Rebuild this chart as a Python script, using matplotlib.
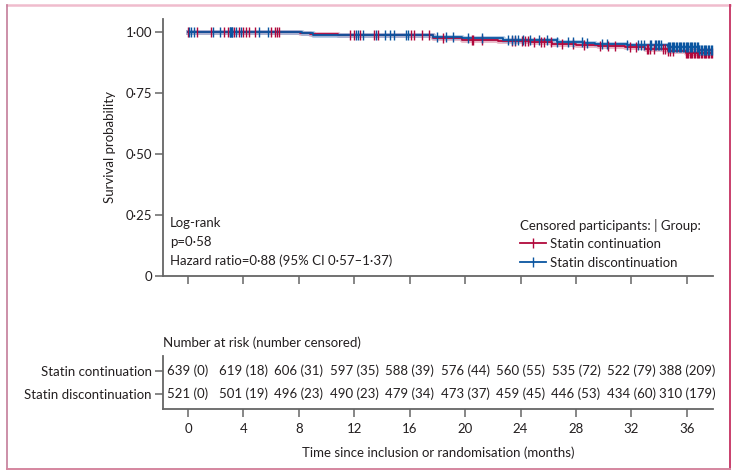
import numpy as np
import matplotlib
matplotlib.use("Agg")
import matplotlib.pyplot as plt
from matplotlib.lines import Line2D

plt.rcParams['font.family'] = ['Lato', 'DejaVu Sans']
plt.rcParams['font.size'] = 9.5

# Kaplan-Meier steps (time in months, survival)
cont_t = [0, 8.1, 8.8, 10.8, 11.9, 17.7, 19.8, 22.4, 24.7, 26.3, 28.0, 29.6, 31.5, 33.0, 34.6, 35.9, 37.8]
cont_s = [1.0, 0.995, 0.992, 0.989, 0.986, 0.977, 0.967, 0.962, 0.958, 0.952, 0.948, 0.942, 0.937, 0.931, 0.923, 0.915, 0.915]
disc_t = [0, 8.2, 9.0, 12.0, 17.7, 19.8, 22.7, 26.6, 28.5, 29.4, 31.7, 34.6, 36.9, 37.8]
disc_s = [1.0, 0.995, 0.989, 0.986, 0.981, 0.974, 0.967, 0.960, 0.956, 0.951, 0.945, 0.938, 0.926, 0.926]

# censoring times
cont_cens = [0.02, 0.67, 1.64, 2.6, 2.86, 3.3, 3.7, 3.95, 4.18, 4.38, 4.83, 6.0, 6.3, 6.45, 6.6,
             11.7, 12.0, 12.4, 13.4, 13.7, 16.1, 16.3, 16.9, 17.4, 18.4, 20.5, 20.6, 21.2,
             23.4, 23.6, 24.1, 24.3, 24.5, 25.0, 25.5, 25.7, 26.2, 27.0, 27.8, 28.6, 29.7,
             30.3, 30.8, 31.9, 32.3, 33.1, 33.2, 33.3, 33.6, 34.3, 34.4, 34.6, 34.8, 35.0,
             35.9, 36.0, 36.1, 36.2, 36.3, 36.4, 36.5, 36.6, 36.7, 36.8, 36.9, 37.0, 37.1,
             37.2, 37.3, 37.4, 37.5, 37.6, 37.7, 37.8]
disc_cens = [0.05, 0.25, 0.45, 1.8, 2.3, 3.0, 3.05, 3.1, 3.15, 3.2, 3.5, 3.8, 5.1, 5.8,
             12.1, 12.3, 12.6, 13.6, 14.2, 14.6, 14.9, 15.7, 15.9, 18.0, 18.6, 19.1, 20.2,
             21.2, 23.1, 23.4, 23.6, 23.8, 24.2, 24.7, 25.3, 25.9, 26.6, 27.4, 27.8, 28.4,
             28.8, 29.9, 30.2, 31.7, 32.5, 32.7, 32.9, 33.3, 33.4, 33.7, 33.8, 33.9, 34.0,
             34.1, 34.6, 34.7, 34.8, 34.9, 35.0, 35.1, 35.2, 35.3, 35.4, 35.5, 35.6, 35.7,
             35.8, 35.9, 36.0, 36.1, 36.2, 36.3, 36.4, 36.5, 36.6, 36.7, 36.8, 36.9, 37.0,
             37.1, 37.2, 37.3, 37.4, 37.5, 37.6, 37.7, 37.8]

risk_times = [0, 4, 8, 12, 16, 20, 24, 28, 32, 36]
cont_risk = ["639 (0)", "619 (18)", "606 (31)", "597 (35)", "588 (39)", "576 (44)",
             "560 (55)", "535 (72)", "522 (79)", "388 (209)"]
disc_risk = ["521 (0)", "501 (19)", "496 (23)", "490 (23)", "479 (34)", "473 (37)",
             "459 (45)", "446 (53)", "434 (60)", "310 (179)"]

y_ticks = [0, 0.25, 0.5, 0.75, 1.0]
y_labels = ["0", "0·25", "0·50", "0·75", "1·00"]

RED = "#b1083c"
BLUE = "#0a55a0"
RED_L = "#d98aa3"
BLUE_L = "#7fa9d6"
TXT = "#231f20"
SPINE = "#666666"


def surv_at(times, surv, t):
    idx = np.searchsorted(times, t, side='right') - 1
    return np.array(surv)[idx]


fig = plt.figure(figsize=(7.35, 4.73), dpi=100)
W, H = 735, 473

# pink frame
fig.add_artist(Line2D([7 / W, 730 / W], [1 - 5.5 / H, 1 - 5.5 / H], color="#f0bccd", lw=1.8))
fig.add_artist(Line2D([7.3 / W, 7.3 / W], [1 - 5 / H, 1 - 469 / H], color="#c47d99", lw=1.2))
fig.add_artist(Line2D([729.5 / W, 729.5 / W], [1 - 5 / H, 1 - 469 / H], color="#c93f6d", lw=1.4))
fig.add_artist(Line2D([7 / W, 730 / W], [1 - 469 / H, 1 - 469 / H], color="#d5869f", lw=1.4))

ax = fig.add_axes([163 / W, 1 - 276 / H, 550 / W, 257 / H])
ax2 = fig.add_axes([163 / W, 1 - 409 / H, 550 / W, 53 / H])

for a in (ax, ax2):
    a.set_xlim(-1.8, 37.88)
    for s in ("top", "right"):
        a.spines[s].set_visible(False)
    for s in ("left", "bottom"):
        a.spines[s].set_color(SPINE)
        a.spines[s].set_linewidth(1.3)
    a.tick_params(direction='out', length=6, width=1.1, color=SPINE, labelcolor=TXT, pad=2)
    a.set_xticks(risk_times)

# survival curves
ax.step(cont_t, cont_s, where='post', color=RED_L, lw=3.5, alpha=0.6, zorder=2)
ax.step(disc_t, disc_s, where='post', color=BLUE_L, lw=3.5, alpha=0.6, zorder=2)
ax.step(cont_t, cont_s, where='post', color=RED, lw=1.3, zorder=3)
ax.step(disc_t, disc_s, where='post', color=BLUE, lw=1.3, zorder=3)
ax.plot(cont_cens, surv_at(cont_t, cont_s, cont_cens), ls='none', marker='|',
        ms=7.5, mew=1.0, color=RED, zorder=4)
ax.plot(disc_cens, surv_at(disc_t, disc_s, disc_cens), ls='none', marker='|',
        ms=7.5, mew=1.0, color=BLUE, zorder=5)

ax.set_ylim(0, 1.053)
ax.set_yticks(y_ticks)
ax.set_yticklabels(y_labels)
ax.set_xticklabels([])
ax.set_ylabel("Survival probability", color=TXT)
ax.yaxis.set_label_coords(-0.086, 0.5)

ax.text(0.013, 0.205, "Log-rank", transform=ax.transAxes, color=TXT, va='center')
ax.text(0.013, 0.133, "p=0·58", transform=ax.transAxes, color=TXT, va='center')
ax.text(0.013, 0.058, "Hazard ratio=0·88 (95% CI 0·57–1·37)", transform=ax.transAxes,
        color=TXT, va='center')

handles = [Line2D([], [], color=RED, lw=1.3, marker='|', ms=7.5, mew=1.0),
           Line2D([], [], color=BLUE, lw=1.3, marker='|', ms=7.5, mew=1.0)]
leg = ax.legend(handles, ["Statin continuation", "Statin discontinuation"],
                title="Censored participants: | Group:", loc='lower left',
                bbox_to_anchor=(0.641, 0.013), frameon=False, alignment='left',
                handlelength=2.0, handletextpad=0.3, labelspacing=0.5,
                borderaxespad=0.2, borderpad=0.1)
leg.get_title().set_color(TXT)
for t in leg.get_texts():
    t.set_color(TXT)

# number at risk table
ax2.set_ylim(-0.644, 1.63)
ax2.set_yticks([0, 1])
ax2.set_yticklabels(["Statin discontinuation", "Statin continuation"])
for x, c, d in zip(risk_times, cont_risk, disc_risk):
    ax2.text(x, 1, c, ha='center', va='center', color=TXT)
    ax2.text(x, 0, d, ha='center', va='center', color=TXT)
ax2.set_xlabel("Time since inclusion or randomisation (months)", color=TXT, labelpad=8)
ax2.tick_params(axis='x', pad=4)
ax2.text(0, 1.25, "Number at risk (number censored)", transform=ax2.transAxes,
         ha='left', va='center', color=TXT)

fig.savefig("out.png", dpi=100)
